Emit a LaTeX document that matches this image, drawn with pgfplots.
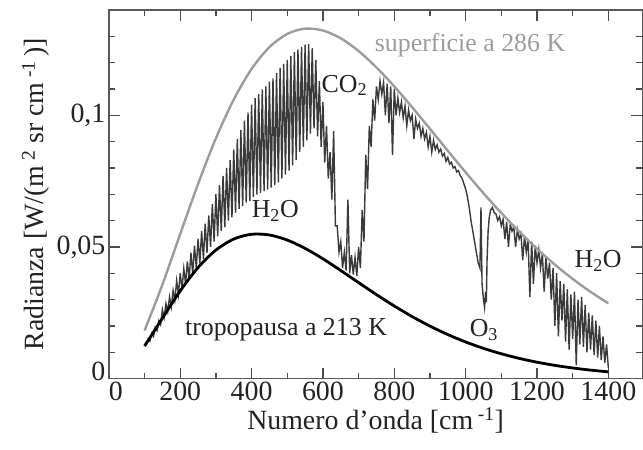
\documentclass[border=0pt]{standalone}
\usepackage{fontspec}
\setmainfont{Liberation Serif}
\usepackage{pgfplots}
\pgfplotsset{compat=1.18}
\definecolor{spec}{HTML}{3A3A3A}
\definecolor{surfgray}{HTML}{9C9C9C}
\definecolor{ink}{HTML}{222222}

\begin{document}
\begin{tikzpicture}
\begin{axis}[
  scale only axis, width=534bp, height=369bp,
  xmin=0, xmax=1495, ymin=0, ymax=0.14,
  xtick={0,200,...,1400}, xticklabels={\hspace*{14bp}0,200,400,600,800,1000,1200,1400},
  minor xtick={100,300,...,1300},
  ytick={0,0.05,0.1}, yticklabels={\raisebox{14bp}{0},{0,05},{0,1}},
  minor ytick={0.01,0.02,0.03,0.04,0.06,0.07,0.08,0.09,0.11,0.12,0.13},
  tick align=inside, major tick length=11bp, minor tick length=6bp,
  axis line style={black!65, line width=1.5bp},
  every tick/.style={black!70, line width=1.2bp},
  tick label style={font=\fontsize{28}{30}\selectfont, text=ink},
  label style={font=\fontsize{28}{30}\selectfont, text=ink},
  xlabel={Numero d’onda [cm\,\textsuperscript{-1}]},
  ylabel={Radianza [W/(m\,\textsuperscript{2}\ sr cm\,\textsuperscript{-1}\,)]},
]
\addplot[spec, line width=1.4bp] coordinates {
(100,0.0130)(105,0.0128)(110,0.0150)(115,0.0142)(120,0.0172)(125,0.0160)
(130,0.0195)(135,0.0182)(140,0.0220)(145,0.0205)(150,0.0262)(155,0.0232)
(160,0.0285)(165,0.0255)(170,0.0310)(175,0.0272)(180,0.0335)(185,0.0298)
(190,0.0372)(195,0.0320)(200,0.0400)(205,0.0340)(210,0.0418)(215,0.0360)
(220,0.0445)(225,0.0378)(230,0.0478)(235,0.0398)(240,0.0505)(245,0.0420)
(250,0.0530)(255,0.0438)(260,0.0560)(265,0.0455)(270,0.0588)(275,0.0478)
(280,0.0620)(285,0.0500)(290,0.0662)(295,0.0520)(300,0.0700)(305,0.0540)
(310,0.0735)(315,0.0560)(320,0.0770)(325,0.0575)(330,0.0800)(335,0.0600)
(340,0.0830)(345,0.0612)(350,0.0870)(355,0.0630)(360,0.0910)(365,0.0645)
(370,0.0945)(375,0.0655)(380,0.0980)(385,0.0668)(390,0.1010)(395,0.0675)
(400,0.1040)(405,0.0690)(410,0.1065)(415,0.0700)(420,0.1080)(425,0.0705)
(430,0.1098)(435,0.0712)(440,0.1110)(445,0.0718)(450,0.1128)(455,0.0725)
(460,0.1140)(465,0.0735)(470,0.1160)(475,0.0745)(480,0.1180)(485,0.0760)
(490,0.1195)(495,0.0775)(500,0.1210)(505,0.0790)(510,0.1225)(515,0.0810)
(520,0.1240)(525,0.0830)(530,0.1250)(535,0.0860)(540,0.1260)(545,0.0880)
(550,0.1268)(555,0.0905)(560,0.1270)(565,0.0930)(570,0.1255)(575,0.0950)
(580,0.1210)(585,0.0920)(590,0.1130)(595,0.0880)(600,0.1050)(605,0.0820)
(610,0.0960)(615,0.0760)(620,0.0860)(625,0.0680)(630,0.0940)(635,0.0580)
(640,0.0580)(645,0.0480)(650,0.0520)(655,0.0420)(660,0.0480)(665,0.0410)
(670,0.0680)(675,0.0400)(680,0.0470)(685,0.0395)(690,0.0460)(695,0.0390)
(700,0.0500)(705,0.0420)(710,0.0640)(715,0.0520)(720,0.0850)(725,0.0720)
(730,0.0960)(735,0.0880)(740,0.1060)(745,0.0980)(750,0.1110)(755,0.1060)
(760,0.1130)(765,0.1080)(770,0.1125)(775,0.1000)(780,0.1120)(785,0.0970)
(790,0.1110)(795,0.0850)(800,0.1100)(805,0.1000)(810,0.1065)(815,0.1010)
(820,0.1050)(825,0.0990)(830,0.1035)(835,0.0960)(840,0.1020)(845,0.0980)
(850,0.1000)(855,0.0910)(860,0.0985)(865,0.0950)(870,0.0970)(875,0.0920)
(880,0.0950)(885,0.0910)(890,0.0935)(895,0.0880)(900,0.0920)(905,0.0860)
(910,0.0905)(915,0.0870)(920,0.0888)(925,0.0860)(930,0.0872)(935,0.0845)
(940,0.0855)(945,0.0825)(950,0.0840)(955,0.0815)(960,0.0822)(965,0.0800)
(970,0.0805)(975,0.0785)(980,0.0790)(985,0.0770)(990,0.0760)(995,0.0740)
(1000,0.0720)(1005,0.0690)(1010,0.0650)(1015,0.0600)(1020,0.0560)(1025,0.0520)
(1030,0.0480)(1035,0.0440)(1040,0.0420)(1043,0.0650)(1046,0.0360)(1050,0.0300)
(1053,0.0270)(1056,0.0330)(1058,0.0290)(1060,0.0450)(1063,0.0560)(1066,0.0610)
(1070,0.0640)(1075,0.0650)(1080,0.0630)(1085,0.0625)(1090,0.0600)(1095,0.0615)
(1100,0.0580)(1105,0.0605)(1110,0.0530)(1115,0.0595)(1120,0.0500)(1125,0.0585)
(1130,0.0560)(1135,0.0575)(1140,0.0500)(1145,0.0565)(1150,0.0530)(1155,0.0550)
(1160,0.0450)(1165,0.0540)(1170,0.0480)(1175,0.0530)(1180,0.0310)(1185,0.0520)
(1190,0.0360)(1195,0.0505)(1200,0.0440)(1205,0.0490)(1210,0.0420)(1215,0.0475)
(1220,0.0330)(1225,0.0460)(1230,0.0380)(1235,0.0440)(1240,0.0300)(1245,0.0420)
(1250,0.0200)(1255,0.0400)(1260,0.0160)(1265,0.0370)(1270,0.0220)(1275,0.0360)
(1280,0.0140)(1285,0.0340)(1290,0.0110)(1295,0.0320)(1300,0.0150)(1305,0.0330)
(1310,0.0050)(1315,0.0300)(1320,0.0130)(1325,0.0310)(1330,0.0120)(1335,0.0280)
(1340,0.0100)(1345,0.0250)(1350,0.0110)(1355,0.0240)(1360,0.0090)(1365,0.0220)
(1370,0.0080)(1375,0.0200)(1380,0.0070)(1385,0.0160)(1390,0.0060)(1395,0.0130)
(1400,0.0040)
};
% superficie a 286 K
\addplot[surfgray, line width=2.4bp, smooth] coordinates {
(100,0.01822)(150,0.03567)(200,0.05491)(250,0.07392)(300,0.09127)(350,0.10599)
(400,0.11761)(450,0.12590)(500,0.13091)(550,0.13291)(600,0.13220)(650,0.12923)
(700,0.12440)(750,0.11817)(800,0.11097)(850,0.10306)(900,0.09485)(950,0.08652)
(1000,0.07832)(1050,0.07040)(1100,0.06288)(1150,0.05582)(1200,0.04928)
(1250,0.04329)(1300,0.03785)(1350,0.03295)(1400,0.02857)
};
% tropopausa a 213 K
\addplot[black, line width=2.8bp, smooth] coordinates {
(100,0.01234)(150,0.02291)(200,0.03330)(250,0.04217)(300,0.04881)(350,0.05299)
(400,0.05480)(450,0.05454)(500,0.05261)(550,0.04945)(600,0.04548)(650,0.04104)
(700,0.03643)(750,0.03189)(800,0.02756)(850,0.02355)(900,0.01992)(950,0.01670)
(1000,0.01389)(1050,0.01147)(1100,0.00941)(1150,0.00767)(1200,0.00621)
(1250,0.00501)(1300,0.00402)(1350,0.00321)(1400,0.00255)
};
\begin{scope}[every node/.style={font=\fontsize{26}{28}\selectfont, anchor=base west, inner sep=0pt}]
\node[text=surfgray] at (axis cs:745,0.1243) {superficie a 286 K};
\node[text=ink] at (axis cs:596,0.1088) {CO\textsubscript{2}};
\node[text=ink] at (axis cs:400,0.0611) {H\textsubscript{2}O};
\node[text=ink] at (axis cs:1305,0.0422) {H\textsubscript{2}O};
\node[text=ink] at (axis cs:1011,0.0160) {O\textsubscript{3}};
\node[text=ink] at (axis cs:213,0.0164) {tropopausa a 213 K};
\end{scope}
\end{axis}
\path ([shift={(-109bp,-71bp)}]current axis.south west) rectangle ([shift={(0bp,10bp)}]current axis.north east);
\end{tikzpicture}
\end{document}
